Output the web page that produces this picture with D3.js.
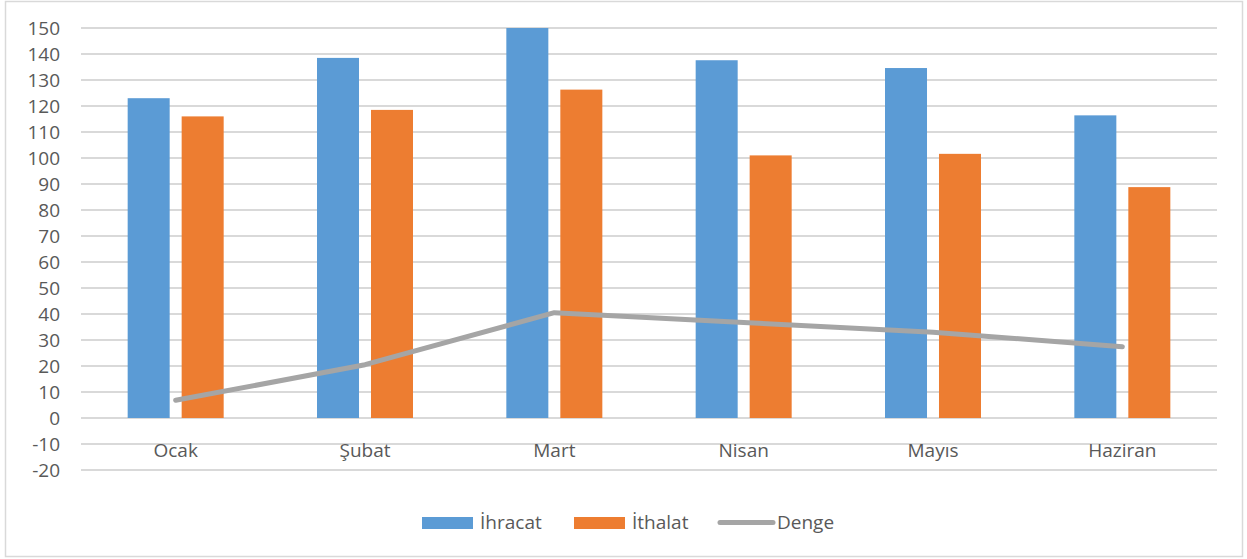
<!DOCTYPE html>
<html>
<head>
<meta charset="utf-8">
<script src="https://cdn.jsdelivr.net/npm/d3@7"></script>
<style>
  html, body { margin: 0; padding: 0; background: #fff; }
  svg { display: block; }
  text { font-family: "Open Sans", "Liberation Sans", sans-serif; fill: #595959; }
</style>
</head>
<body>
<svg id="chart" width="1247" height="559"></svg>
<script>
const categories = ["Ocak", "Şubat", "Mart", "Nisan", "Mayıs", "Haziran"];
const ihracat = [123, 138.5, 150, 137.6, 134.6, 116.4];
const ithalat = [116, 118.5, 126.3, 101, 101.6, 88.8];
const denge = [6.8, 20.5, 40.5, 36.7, 33, 27.4];
const yTicks = [150, 140, 130, 120, 110, 100, 90, 80, 70, 60, 50, 40, 30, 20, 10, 0, -10, -20];
const seriesNames = ["İhracat", "İthalat", "Denge"];

const colors = { ihracat: "#5B9BD5", ithalat: "#ED7D31", denge: "#A5A5A5" };

const svg = d3.select("#chart");

// outer border
svg.append("rect").attr("x", 5.5).attr("y", 1.5).attr("width", 1237).attr("height", 555)
  .attr("fill", "#fff").attr("stroke", "#D9D9D9").attr("stroke-width", 1.5);

const left = 81, right = 1217;
const y = d3.scaleLinear().domain([-20, 150]).range([470, 28]);
const x = d3.scaleBand().domain(categories).range([left, right]);
const inner = d3.scaleBand().domain(["ihracat", "ithalat"]).range([-48, 48]).paddingInner(0.222).paddingOuter(0);

// gridlines
svg.append("g").selectAll("line").data(yTicks).join("line")
  .attr("x1", left).attr("x2", right)
  .attr("y1", d => y(d)).attr("y2", d => y(d))
  .attr("stroke", "#D9D9D9").attr("stroke-width", 2);

// y tick labels
svg.append("g").selectAll("text").data(yTicks).join("text")
  .attr("x", 60).attr("y", d => y(d)).attr("dy", "0.36em")
  .attr("text-anchor", "end").attr("font-size", 19)
  .text(d => d);

// bars
const groups = svg.append("g").selectAll("g").data(categories).join("g")
  .attr("transform", d => `translate(${x(d) + x.bandwidth() / 2},0)`);

groups.append("rect")
  .attr("x", inner("ihracat")).attr("width", inner.bandwidth())
  .attr("y", (d, i) => y(ihracat[i])).attr("height", (d, i) => y(0) - y(ihracat[i]))
  .attr("fill", colors.ihracat);

groups.append("rect")
  .attr("x", inner("ithalat")).attr("width", inner.bandwidth())
  .attr("y", (d, i) => y(ithalat[i])).attr("height", (d, i) => y(0) - y(ithalat[i]))
  .attr("fill", colors.ithalat);

// category labels
svg.append("g").selectAll("text").data(categories).join("text")
  .attr("x", d => x(d) + x.bandwidth() / 2).attr("y", 457)
  .attr("text-anchor", "middle").attr("font-size", 19)
  .text(d => d);

// line
const line = d3.line()
  .x((d, i) => x(categories[i]) + x.bandwidth() / 2)
  .y(d => y(d));
svg.append("path").datum(denge).attr("d", line)
  .attr("fill", "none").attr("stroke", colors.denge).attr("stroke-width", 5)
  .attr("stroke-linecap", "round").attr("stroke-linejoin", "round");

// legend
const lg = svg.append("g");
lg.append("rect").attr("x", 422).attr("y", 517).attr("width", 51).attr("height", 12).attr("fill", colors.ihracat);
lg.append("text").attr("x", 480).attr("y", 529).attr("font-size", 19).text(seriesNames[0]);
lg.append("rect").attr("x", 574).attr("y", 517).attr("width", 51).attr("height", 12).attr("fill", colors.ithalat);
lg.append("text").attr("x", 632).attr("y", 529).attr("font-size", 19).text(seriesNames[1]);
lg.append("line").attr("x1", 720).attr("x2", 773).attr("y1", 522.5).attr("y2", 522.5)
  .attr("stroke", colors.denge).attr("stroke-width", 5).attr("stroke-linecap", "round");
lg.append("text").attr("x", 777).attr("y", 529).attr("font-size", 19).text(seriesNames[2]);
</script>
</body>
</html>
